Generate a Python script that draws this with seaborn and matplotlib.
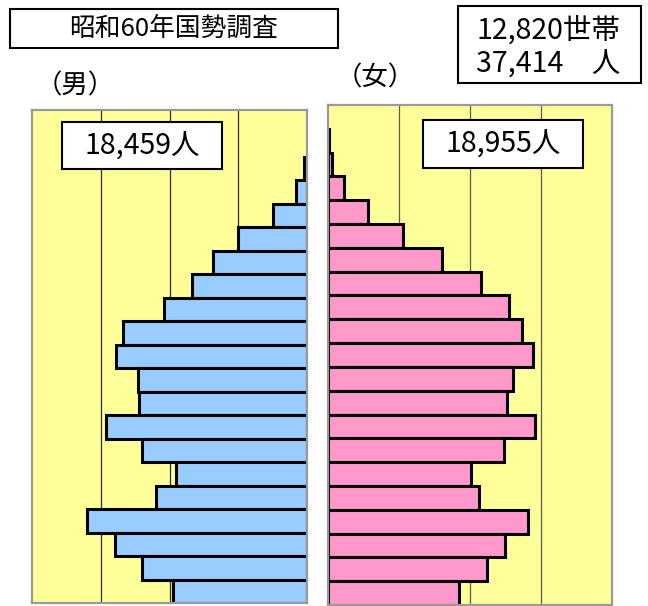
import matplotlib
matplotlib.use("Agg")
import matplotlib.pyplot as plt
from matplotlib.patches import Rectangle
import pandas as pd
import seaborn as sns

# 5-year age groups, youngest first
age_groups = ["0-4", "5-9", "10-14", "15-19", "20-24", "25-29", "30-34",
              "35-39", "40-44", "45-49", "50-54", "55-59", "60-64", "65-69",
              "70-74", "75-79", "80-84", "85-89", "90-94", "95-"]
male = [978, 1197, 1394, 1597, 1095, 956, 1197, 1460, 1219, 1226,
        1387, 1336, 1037, 840, 686, 504, 248, 80, 22, 0]
female = [925, 1119, 1246, 1410, 1063, 1007, 1239, 1460, 1260, 1302,
          1443, 1366, 1274, 1077, 803, 528, 282, 113, 28, 10]
households = 12820
title = "昭和60年国勢調査"

sns.set_theme(style="white")
plt.rcParams["font.family"] = ["Noto Sans CJK JP", "DejaVu Sans"]

W, H = 648, 606
fig = plt.figure(figsize=(W / 100, H / 100), dpi=100)
fig.patch.set_facecolor("white")


def frac_box(x0, y0, x1, y1):
    """Pixel box (top-left origin) -> figure-fraction [l, b, w, h]."""
    return [x0 / W, 1 - y1 / H, (x1 - x0) / W, (y1 - y0) / H]


df = pd.DataFrame({"age": age_groups, "male": male, "female": female})
order = age_groups[::-1]  # oldest at the top

YELLOW = "#FFFF99"
BORDER = "#9A9A9A"


def style_panel(ax, grid_color):
    ax.set_facecolor(YELLOW)
    for s in ax.spines.values():
        s.set_color(BORDER)
        s.set_linewidth(1.6)
    ax.set_xticks([500, 1000, 1500])
    ax.grid(axis="x", color=grid_color, linewidth=0.9)
    ax.grid(axis="y", visible=False)
    ax.set_axisbelow(True)
    ax.tick_params(length=0, labelbottom=False, labelleft=False)
    ax.set_xlabel("")
    ax.set_ylabel("")
    ax.set_ylim(len(order) - 0.5, -1.5)


# Male panel (bars grow to the left)
ax_m = fig.add_axes(frac_box(32, 110, 307, 603))
sns.barplot(data=df[df["male"] > 0], x="male", y="age", order=order,
            orient="h", color="#99CCFF", saturation=1, width=1.0,
            edgecolor="black", linewidth=2.2, ax=ax_m)
style_panel(ax_m, "#2A2A2A")
ax_m.set_xlim(2000, 0)

# Female panel (bars grow to the right)
ax_f = fig.add_axes(frac_box(328, 105, 612, 605))
sns.barplot(data=df[df["female"] > 0], x="female", y="age", order=order,
            orient="h", color="#FF99CC", saturation=1, width=1.0,
            edgecolor="black", linewidth=2.2, ax=ax_f)
style_panel(ax_f, "#5A5A5A")
ax_f.set_xlim(0, 2000)


def boxed(x0, y0, x1, y1, lw=1.5):
    l, b, w, h = frac_box(x0, y0, x1, y1)
    fig.patches.append(Rectangle((l, b), w, h, transform=fig.transFigure,
                                 facecolor="white", edgecolor="black",
                                 linewidth=lw, zorder=5))


def put(x, y, s, size, ha="center"):
    fig.text(x / W, 1 - y / H, s, fontsize=size, ha=ha, va="center",
             color="black", zorder=6)


# Title
boxed(10, 9, 338, 48)
put(174, 28.5, title, 18.5)

# Households / population
total_m = sum(male)
total_f = sum(female)
boxed(458, 6, 641, 83)
put(548, 31, f"{households:,}世帯", 20.5)
put(548, 64, f"{total_m + total_f:,}　人", 20.5)

# Sex headings
put(75, 86, "（男）", 19)
put(375, 78, "（女）", 19)

# Totals per sex
boxed(62, 122, 222, 169)
put(142, 145.5, f"{total_m:,}人", 20.5)
boxed(423, 120, 583, 168)
put(503, 144, f"{total_f:,}人", 20.5)

fig.savefig("out.png", dpi=100)
